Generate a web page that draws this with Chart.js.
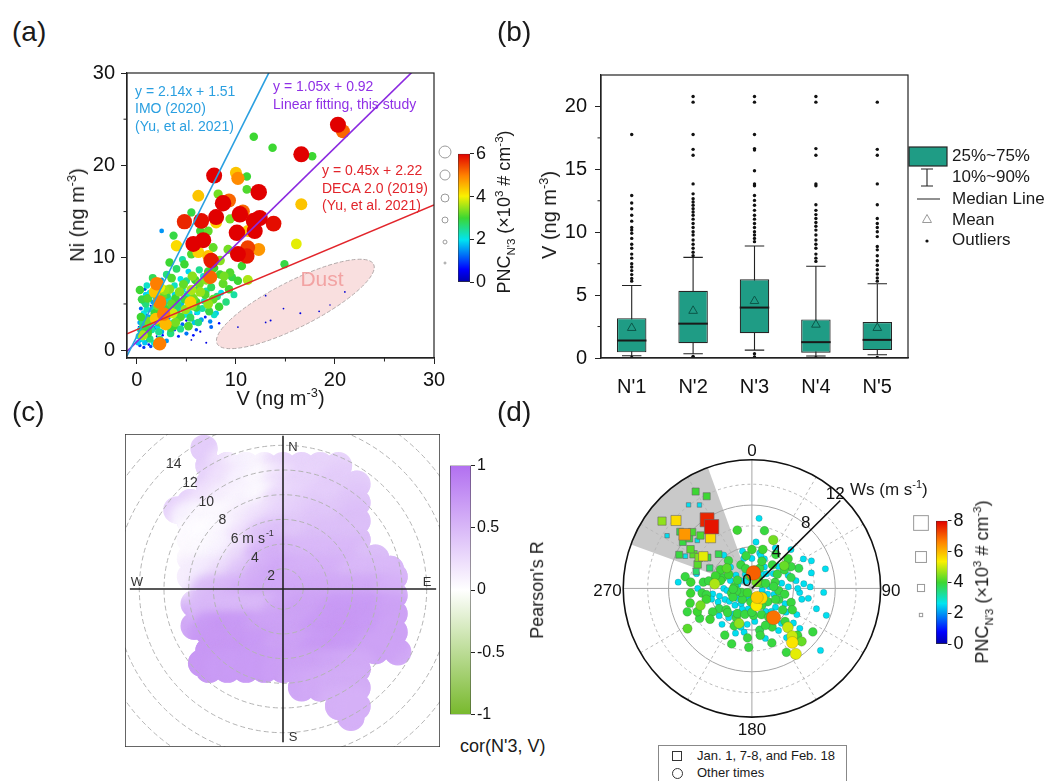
<!DOCTYPE html>
<html><head><meta charset="utf-8">
<script src="https://cdn.jsdelivr.net/npm/chart.js@4.4.1/dist/chart.umd.min.js"></script>
<style>
html,body{margin:0;padding:0;background:#fff;}
body{width:1052px;height:781px;overflow:hidden;position:relative;font-family:Arial,"Liberation Sans",Helvetica,sans-serif;color:#1a1a1a;}
canvas{position:absolute;}
.t{position:absolute;white-space:nowrap;line-height:1.1;}
.t sup,.t sub{font-size:64%;line-height:0;}
.bx{position:absolute;box-sizing:border-box;}
</style></head><body>
<script>
// ================= DATA =================
// (a) Ni vs V, colour/size = PNC_N'3 (x10^3 # cm^-3)
const aV=[20.3,20.8,16.6,7.8,12.3,8.7,9.3,4.8,6.5,8.0,10.4,10.7,12.4,13.8,10.1,11.9,5.7,6.7,10.2,11.1,7.5,7.4,2.3,2.7,2.3,2.0,11.8,11.2,
10.0,10.2,6.2,16.6,16.1,12.3,8.0,7.2,11.2,4.0,6.2,5.4,1.8,
11.8,13.7,17.7,11.1,11.1,8.2,5.5,9.4,6.4,7.2,3.7,7.7,9.2,10.6,11.2,10.2,9.4,8.4,14.9,5.5,4.8,8.4,2.5,
0.3,0.5,0.8,1.0,1.2,1.5,0.6,0.4,0.9,1.3,0.8,1.8,2.0,2.2,2.5,2.8,3.0,3.2,3.5,3.8,4.0,4.3,4.6,4.8,5.0,5.3,5.5,5.8,6.0,6.3,6.6,6.9,7.2,7.5,7.8,8.1,3.0,2.5,1.6,4.0,5.2,6.3,3.3,4.6,3.0,3.8,4.2,5.0,6.0,6.5,7.5,8.0,8.5,1.0,1.4,2.0,0.2,0.7,1.7,2.9,2.3,3.6,1.1,0.5,6.4,5.5,7.0,1.5,2.7,3.4,4.4,5.6,0.3,1.0,2.8,8.7,7.2,9.0,0.6,1.9,
13.0,14.8,16.5,18.4,13.0,13.5,10.2,21.0,19.5,
0.2,0.4,0.7,1.1,1.6,1.9,2.1,2.4,2.6,2.9,3.1,3.3,3.6,3.9,4.1,4.5,4.7,4.9,5.1,5.4,5.7,5.9,6.1,6.4,6.8,7.0,7.3,7.7,8.3,8.8,9.3,9.6,0.9,1.3,1.8,2.3,2.6,3.4,3.7,4.4,5.2,5.7,6.2,6.9,7.4,8.3,0.5,1.5,2.2,3.5,4.4,5.6,6.7,7.8,0.8,1.4,2.0,0.3,1.2,9.8,
0.1,0.3,0.5,0.7,0.9,1.0,1.2,1.4,1.6,1.8,2.0,2.1,2.3,2.4,2.6,2.8,3.0,3.2,3.4,3.6,3.8,4.0,4.2,4.4,4.6,4.8,5.0,0.4,0.8,1.2,1.9,2.6,3.2,4.0,5.0,5.9,0.6,1.1,2.7,3.3,4.1,5.3,6.2,7.0,1.7,0.9,2.2,3.9,6.0,5.1];
const aNi=[24.4,23.7,21.2,18.9,17.1,15.9,16.2,13.9,14.0,14.4,14.7,15.0,14.3,13.7,12.7,12.9,11.5,11.9,10.4,10.2,9.7,7.9,5.2,3.9,0.7,7.2,14.0,11.1,
19.2,18.6,16.7,15.8,11.5,10.9,13.8,10.2,12.9,11.3,10.6,5.2,6.3,
23.1,21.9,21.0,18.8,17.4,16.9,14.9,14.2,12.9,12.9,12.4,11.1,10.9,9.1,7.6,7.5,8.4,8.2,9.3,10.4,9.3,9.7,12.9,
0.5,1.2,2.0,1.0,2.5,3.2,3.0,4.5,5.0,6.2,6.6,4.0,5.5,3.0,2.0,4.5,6.0,3.5,5.0,7.0,4.2,6.3,2.8,5.5,7.5,4.0,6.5,3.0,5.2,7.2,4.5,6.0,5.0,6.8,3.8,5.8,8.2,7.6,7.8,8.8,8.5,8.7,9.5,9.8,1.0,2.2,1.5,1.8,2.2,3.3,2.5,4.0,6.2,3.8,4.8,1.5,2.5,0.3,0.8,2.8,6.8,4.0,1.8,2.0,2.0,1.1,0.8,2.2,3.6,2.4,3.6,4.8,6.5,7.0,6.5,7.2,8.5,5.2,1.6,3.4,
5.9,4.5,4.0,4.2,3.0,3.2,2.5,6.3,4.9,
1.5,3.6,4.0,5.6,5.2,6.8,4.8,3.8,5.9,5.2,4.4,6.6,3.0,5.6,3.3,5.0,7.1,4.4,6.1,3.5,5.6,7.6,4.1,6.3,5.3,7.6,4.2,5.5,4.7,8.0,6.6,7.9,2.7,1.2,2.4,1.2,2.9,1.8,2.6,2.3,2.6,1.6,3.0,3.6,3.1,2.9,5.5,6.0,7.3,7.8,7.7,8.0,8.0,8.9,0.8,0.4,0.6,3.0,3.1,6.0,
0.8,2.2,3.5,5.2,6.0,4.4,3.6,2.8,4.4,5.8,3.8,2.6,4.2,6.2,3.3,5.4,4.0,5.6,2.9,4.6,6.0,3.7,5.3,4.6,6.6,3.8,5.9,1.0,1.5,0.6,1.0,1.6,2.0,2.5,3.2,3.9,2.5,2.2,4.9,3.9,4.9,5.0,6.6,6.4,3.6,3.4,2.0,3.0,4.6,4.3];
const aPnc=[6,5.2,6,6,6.2,6.2,5.2,5.7,5.9,6,6.2,5.2,6.1,5.9,6.2,6,6,6,6,5.8,5.8,5.2,5.0,5.0,5.0,5.0,6,5.5,
4.4,4.9,4.4,4.4,3.9,4.8,4.3,4.4,4.4,4.2,4.3,4.3,4.4,
3.0,3.0,3.0,3.0,3.1,3.3,2.9,3.3,3.0,3.2,2.9,3.2,3.3,3.0,3.6,3.0,3.1,3.0,2.9,3.1,3.0,3.4,1.5,
1.0,2.0,1.5,0.8,2.2,1.8,2.5,1.2,2.6,2.0,1.0,3.0,2.4,2.8,1.6,2.0,2.8,1.4,3.2,2.2,2.6,3.4,1.2,2.9,2.5,2.1,3.6,1.8,3.0,3.3,2.4,3.1,3.5,2.8,2.2,2.6,2.6,1.5,2.8,2.7,1.9,2.5,3.0,2.4,1.5,1.0,0.8,1.3,1.0,1.6,1.2,1.8,2.0,0.6,0.5,0.4,0.5,0.9,2.0,4.5,4.0,3.8,3.0,2.8,0.5,0.3,0.4,2.4,3.3,2.9,3.1,3.4,3.0,2.2,3.5,3.2,3.0,2.6,3.6,4.4,
0.3,0.3,0.4,0.3,0.3,0.4,0.3,0.3,0.2,
2.2,3.0,2.0,3.1,1.6,3.0,3.3,2.2,3.2,1.8,2.9,3.4,2.0,3.0,2.3,1.7,3.2,3.5,2.2,2.8,3.3,3.0,2.0,3.5,2.2,3.4,2.9,3.2,3.0,3.3,3.0,2.9,1.4,2.6,1.2,2.4,3.1,2.6,3.0,2.5,3.1,0.7,2.6,0.8,1.4,0.6,2.9,0.8,3.3,3.1,2.0,3.4,2.2,3.0,1.8,1.0,2.7,1.6,3.3,2.4,
1.8,2.0,1.7,2.1,1.9,2.2,1.6,2.0,2.3,1.8,2.0,1.9,2.1,1.7,2.2,1.9,2.1,2.3,1.8,2.0,1.9,2.2,2.0,1.8,2.2,2.0,2.1,0.6,0.5,0.7,0.5,0.6,0.4,0.5,0.6,0.4,2.6,2.9,2.6,2.8,2.7,2.5,2.6,2.4,2.7,2.4,2.5,3.3,2.9,1.9];
const fitSlope=[2.14,1.05,0.45];
const fitIntercept=[1.51,0.92,2.22];
const aXTicks=[0,10,20,30], aXMinor=[5,15,25];
const aYTicks=[0,10,20,30], aYMinor=[5,15,25];
const aCbarTicks=[0,1,2,3,4,5,6];
const aSizeLegend=[4.4,3.6,2.8,2.0,1.2,0.4];
const dustAxis={x1:8.1,y1:0.7,x2:23.9,y2:9.3};

// (b) V by cluster (box plot)
const bCats=["N'1","N'2","N'3","N'4","N'5"];
const bP10=[0.18,0.34,0.63,0.16,0.26];
const bQ1=[0.45,1.18,1.97,0.42,0.63];
const bMedian=[1.39,2.73,4.01,1.26,1.44];
const bQ3=[3.17,5.35,6.26,3.07,2.86];
const bP90=[5.77,8.0,8.91,7.29,5.9];
const bMean=[2.39,3.75,4.53,2.65,2.39];
const bOut1=[17.77,12.92,12.32,11.87,11.35,10.88,10.38,10.17,9.91,9.51,9.04,8.73,8.26,7.94,7.5,7.23,6.95,6.63,6.32,6.11,0.05];
const bOut2=[20.79,20.34,17.77,16.59,16.12,13.84,13.05,12.66,12.4,12.14,11.87,11.61,11.35,11.04,10.69,10.38,10.04,9.78,9.38,9.04,8.73,8.41,8.13,0.13,0.02];
const bOut3=[20.79,20.34,17.77,16.65,16.54,14.89,13.84,13.7,12.92,12.53,12.14,11.74,11.35,11.04,10.69,10.38,10.04,9.78,9.51,9.25,0.34,0.08];
const bOut4=[20.79,20.34,16.65,16.12,13.84,13.7,12.19,11.74,11.4,11.09,10.77,10.48,10.17,9.78,9.38,9.04,8.73,8.26,7.94,7.68,0.03];
const bOut5=[20.34,16.59,16.12,13.84,12.19,11.09,10.69,10.38,10.04,9.65,8.86,8.6,8.13,7.73,7.37,7.02,6.68,6.37,6.11,0.04];
const bYTicks=[0,5,10,15,20], bYMinor=[2.5,7.5,12.5,17.5];
const bLegendLabels=['25%~75%','10%~90%','Median Line','Mean','Outliers'];

// (c) polar correlation field, Pearson's R on a (u,v) wind grid (m/s)
const cU=[-7.5,-6,-4.5,-3,-1.5,0,1.5,3,4.5,6,7.5,9];
const cV=[10,8.5,7,5.5,4,2.5,1,-0.5,-2,-3.5,-5,-6.5,-8,-9.5];
const _=null;
const cR=[
 [_,.35,.2,.1,.08,.25,.3,.3,.3,_,_,_],
 [_,.3,.2,.1,.05,.2,.3,.3,.35,.35,_,_],
 [.3,.2,.12,.08,.05,.25,.3,.35,.35,.4,_,_],
 [.1,.05,.05,.12,.2,.3,.35,.4,.4,.45,_,_],
 [.03,.02,.06,.2,.4,.45,.4,.45,.45,.45,_,_],
 [.04,.05,.1,.25,.5,.55,.5,.5,.5,.5,.45,_],
 [.12,.15,.25,.4,.55,.6,.55,.55,.55,.5,.5,.5],
 [_,.45,.5,.55,.6,.6,.6,.6,.6,.6,.6,.55],
 [_,.5,.5,.5,.5,.6,.65,.65,.7,.7,.7,.65],
 [_,.7,.72,.7,.65,.65,.65,.7,.72,.72,.7,.65],
 [_,.72,.72,.72,.7,.65,.65,.7,.72,.7,.65,_],
 [_,.72,.7,.7,.7,.68,.65,.65,.62,.6,_,_],
 [_,_,_,_,_,_,.62,.6,.58,.58,_,_],
 [_,_,_,_,_,_,_,_,.55,.55,_,_]];
const cExtra=[[-6.4,11.4,.35],[-8.6,6.4,.3],[8.7,1.6,.55],[9.3,-5.1,.6],[5.5,-10.4,.55],[-6.6,-6,.72],[-7.2,-1.2,.45],[-7.2,-3,.6]];
const cRings=[2,4,6,8,10,12,14,16];
const cRingLabels=[2,4,6,8,10,12,14];
const cRadialOffset=0.364;
const cCbarTicks=[-1,-0.5,0,0.5,1];

// (d) polar scatter: wind direction (deg), wind speed (m/s), PNC_N'3
const dDir=[6,135,165,143.6,23.7,54.7,146.3,143.4,137,136,137.4,251.5,237.9,277,346,15.6,0,151.8,125.7,199.9,183,233.5,265.6,275.9,256.6,256.4,246.8,284,274.9,5.8,12.2,60,66.6,75.3,93.2,107.6,132.3,120.4,84.8,74.4,75,112.4,158.6,169.5,195.6,218.3,238.2,225,225,275,301,309,335,0,40.9,60.6,87.5,84.8,37.9,305.5,220.6,176.6,149,128.7,109.8,102.3,88.5,256.6,247.6,257,219.6,239,264.6,277.4,207.8,187.4,152.5,147.8,22.8,36.9,342.9,21,301,289,346,12.3,50.4,60.8,100,160,200,250,320,60,130,190,240,290,95,115,175,210,270,80,170,230,140,30,350,
10,45,70,110,150,185,215,260,300,335,20,50,100,125,160,195,230,262,280,315,5,35,65,95,118,200,250,270,160,130,
15,55,80,105,120,140,175,205,235,265,285,310,345,70,90,100,130,145,165,190,215,248,255,285,320,30,45,75,110,125,
25,85,150,180,205,225,245,268,290,320,350,60,115,135,160,185,210,240,262,280,150,200,140];
const dWs=[1.5,1.3,1.7,3.5,5.1,3.8,7.6,6.5,7.0,6.3,5.1,5.2,7.3,3.6,5.8,3.9,3.75,7.0,7.2,5.7,5.7,5.0,5.9,5.9,6.1,4.5,5.7,3.1,7.1,6.8,5.7,5.7,4.9,5.9,6.9,6.5,8.9,5.0,5.0,3.9,2.3,2.8,3.7,4.1,3.9,3.6,3.7,2.3,0.6,1.7,2.6,3.1,2.5,2.9,3.0,2.8,3.5,1.7,1.7,1.3,1.4,2.6,2.6,2.9,4.0,4.9,5.6,3.2,2.8,2.0,4.5,4.4,4.8,4.7,3.2,3.5,4.2,4.8,3.1,0.75,2.0,2.1,3.5,3.7,3.7,3.5,4.5,4.3,1.0,0.9,1.0,1.1,0.9,1.0,2.0,2.0,2.5,2.2,2.6,3.5,3.2,2.8,2.7,4.3,4.6,4.1,4.4,2.4,1.2,
1.8,2.0,1.4,1.6,1.9,1.3,1.8,1.5,1.6,1.5,2.8,3.3,3.2,3.6,2.7,2.6,3.2,3.8,4.2,2.9,4.5,4.0,6.3,4.6,4.4,4.6,6.6,5.2,5.6,6.0,
3.3,2.5,2.9,2.2,1.3,2.9,1.5,2.2,1.7,2.4,1.4,2.0,3.0,3.7,4.4,5.5,5.2,5.8,5.0,4.3,3.0,3.5,4.0,5.5,4.2,4.5,5.3,7.3,7.6,4.0,
1.2,2.1,3.2,2.3,4.0,3.3,2.0,1.8,3.0,3.5,3.2,3.6,2.5,4.5,3.8,4.8,5.2,5.8,4.4,6.5,1.0,3.6,6.0];
const dPnc=[7.0,5.6,5.4,6.8,4.4,4.3,5.2,5.5,4.3,4.0,5.0,4.4,4.2,4.8,4.0,4.0,4.0,3.9,3.9,3.9,3.9,4.0,4.0,4.0,4.0,4.0,4.0,4.0,2.6,2.6,3.9,2.6,3.8,2.6,2.6,2.6,2.6,2.6,2.6,3.8,3.9,3.8,2.6,3.8,2.6,2.6,3.8,2.6,4.0,3.9,4.0,4.2,3.9,2.6,3.9,3.9,2.6,2.6,2.6,2.6,3.9,3.9,2.6,2.6,3.9,2.6,2.6,2.6,2.6,3.9,2.6,3.9,3.9,3.9,3.9,2.6,3.9,2.6,2.6,4.4,3.9,3.9,4.0,4.0,2.6,2.6,4.0,3.9,2.6,3.9,2.6,3.9,2.6,3.9,3.9,2.6,2.6,2.6,3.9,2.6,2.6,3.9,2.6,2.6,3.9,2.6,2.6,2.6,3.9,
3.9,2.6,3.9,2.6,3.9,3.9,2.6,3.9,3.9,2.6,3.9,2.6,3.9,3.9,3.9,3.9,3.9,2.6,3.9,2.6,2.6,3.9,2.6,2.6,3.9,2.6,3.9,2.6,3.9,2.6,
2.6,2.6,2.6,2.6,2.6,2.6,2.6,2.6,2.6,2.6,2.6,2.6,2.6,2.6,2.6,2.6,2.6,2.6,2.6,2.6,2.6,2.6,2.6,2.6,2.6,2.6,2.6,2.6,2.6,2.6,
3.9,3.9,3.9,3.9,3.9,3.9,3.9,3.9,3.9,3.9,3.9,3.9,3.9,3.9,3.9,3.9,3.9,3.9,3.9,3.9,5.8,4.6,5.0];
const sDir=[330,334,328,323,307,312,327,327,329,302,308.5,309,313.5,316,304,311.5,321,316,295,296,300.5,300.5,303.6,305,302.7,294,287,296,308.7];
const sWs=[10.8,9.9,9.5,10.1,10.8,9.8,7.9,7.1,7.4,9.6,8.8,8.3,7.9,7.1,8.0,7.0,6.3,4.6,7.7,7.1,6.5,5.9,5.6,5.2,7.0,5.7,5.6,4.5,7.7];
const sPnc=[4.0,4.0,2.6,2.6,4.6,5.6,7.6,7.8,2.6,2.6,3.9,6.4,4.1,4.1,3.9,2.7,5.6,3.8,3.9,2.7,4.2,4.5,5.2,3.9,4.2,4.2,3.6,3.6,3.9];
const dSector=[290,340];
const dMaxWs=12.35;
const dRingsDashed=[2,6,10], dRingsSolid=[4,8];
const dWsTicks=[0,4,8,12], dWsDir=45;
const dCbarTicks=[0,2,4,6,8];
const dSizeLegend=[8,6,4,2];

// ================= HELPERS =================
const FONT='Arial, "Liberation Sans", Helvetica, sans-serif';
Chart.defaults.font.family=FONT;
Chart.defaults.color='#111';
Chart.defaults.animation=false;
Chart.defaults.responsive=false;
Chart.defaults.plugins.legend.display=false;
Chart.defaults.plugins.tooltip.enabled=false;

function mkCanvas(l,t,w,h){const c=document.createElement('canvas');c.width=w;c.height=h;c.style.left=l+'px';c.style.top=t+'px';c.style.width=w+'px';c.style.height=h+'px';document.body.appendChild(c);return c;}
function lab(html,x,y,o={}){const d=document.createElement('div');d.className='t';d.innerHTML=html;d.style.left=x+'px';d.style.top=y+'px';d.style.fontSize=(o.size||16)+'px';d.style.color=o.color||'#1a1a1a';const ax=o.align==='left'?'0':(o.align==='right'?'-100%':'-50%');d.style.transform='translate('+ax+',-50%)'+(o.rot?' rotate('+o.rot+'deg)':'');document.body.appendChild(d);return d;}
function box(l,t,w,h,css){const d=document.createElement('div');d.className='bx';d.style.left=l+'px';d.style.top=t+'px';d.style.width=w+'px';d.style.height=h+'px';d.style.cssText+=css;document.body.appendChild(d);}

const jetStops=[[0,[0,0,170]],[0.1,[0,0,255]],[0.33,[0,228,240]],[0.5,[60,215,50]],[0.67,[250,240,0]],[0.83,[255,130,0]],[1,[225,0,0]]];
function jet(t){t=Math.max(0,Math.min(1,t));for(let i=1;i<jetStops.length;i++){if(t<=jetStops[i][0]){const [t0,c0]=jetStops[i-1],[t1,c1]=jetStops[i];const f=(t-t0)/(t1-t0);return 'rgb('+c0.map((v,j)=>Math.round(v+(c1[j]-v)*f)).join(',')+')';}}return 'rgb(225,0,0)';}
const cPosCol=[178,112,240], cNegCol=[120,185,45];
function rColor(R){const t=Math.min(1,Math.abs(R));const c=R>=0?cPosCol:cNegCol;return 'rgb('+c.map(v=>Math.round(255+(v-255)*t)).join(',')+')';}

const frame=(ch,lw,col)=>{const {ctx,chartArea:a}=ch;ctx.save();ctx.strokeStyle=col||'#222';ctx.lineWidth=lw||1.2;ctx.strokeRect(a.left,a.top,a.right-a.left,a.bottom-a.top);ctx.restore();};
const minorTicks=(ch,axis,vals,len)=>{const {ctx,chartArea:a}=ch;const s=ch.scales[axis];ctx.save();ctx.strokeStyle='#222';ctx.lineWidth=1;ctx.beginPath();vals.forEach(v=>{const p=s.getPixelForValue(v);if(axis==='x'){ctx.moveTo(p,a.bottom);ctx.lineTo(p,a.bottom+len);}else{ctx.moveTo(a.left,p);ctx.lineTo(a.left-len,p);}});ctx.stroke();ctx.restore();};
const fixedTicks=arr=>(s=>{s.ticks=arr.map(v=>({value:v}));});

function colorbar(l,t,w,h,barW,min,max,ticks,stops,fontSize){
  const c=mkCanvas(l,t,w,h);
  new Chart(c,{type:'bar',
    data:{labels:[''],datasets:[{data:[[min,max]],barPercentage:1,categoryPercentage:1,borderSkipped:false,borderColor:'#333',borderWidth:0.8,
      backgroundColor:(ctx)=>{const a=ctx.chart.chartArea;if(!a)return '#ccc';const g=ctx.chart.ctx.createLinearGradient(0,a.bottom,0,a.top);stops.forEach(([s,col])=>g.addColorStop(s,col));return g;}}]},
    options:{layout:{padding:{top:10,bottom:10,left:0,right:0}},
      scales:{x:{display:false},
        y:{position:'right',min,max,afterBuildTicks:fixedTicks(ticks),afterFit:s=>{s.width=w-barW;},
          ticks:{font:{size:fontSize},color:'#111',padding:2,callback:v=>String(v)},
          grid:{drawOnChartArea:false,tickLength:4,color:'#222'},border:{display:false}}}}});
}

// ================= (a) =================
const fitColors=['#2a9fe0','#8b2ae0','#e2252b'];
const rA=p=>0.5+1.25*p;
const aIdx=aV.map((_,i)=>i).sort((i,j)=>aPnc[i]-aPnc[j]);
const aPlugin={id:'aDeco',
  beforeDatasetsDraw(ch){const {ctx,scales:{x,y}}=ch;
    const x1=x.getPixelForValue(dustAxis.x1),y1=y.getPixelForValue(dustAxis.y1),x2=x.getPixelForValue(dustAxis.x2),y2=y.getPixelForValue(dustAxis.y2);
    const a=Math.hypot(x2-x1,y2-y1)/2,ang=Math.atan2(y2-y1,x2-x1);
    ctx.save();ctx.beginPath();ctx.ellipse((x1+x2)/2,(y1+y2)/2,a,23,ang,0,Math.PI*2);ctx.fillStyle='rgba(247,210,210,0.7)';ctx.fill();
    ctx.setLineDash([4,2]);ctx.strokeStyle='#b3aaaa';ctx.lineWidth=1;ctx.stroke();ctx.restore();},
  afterDraw(ch){frame(ch);minorTicks(ch,'x',aXMinor,3.5);minorTicks(ch,'y',aYMinor,3.5);
    const ctx=ch.ctx;ctx.save();ctx.strokeStyle='#9a9a9a';ctx.lineWidth=1;
    const ys=[152,175,198,220,242,263];
    aSizeLegend.forEach((p,i)=>{ctx.beginPath();ctx.arc(445-40,ys[i]-55,rA(p),0,Math.PI*2);ctx.stroke();});ctx.restore();}
};
new Chart(mkCanvas(40,55,420,359),{type:'scatter',
  data:{datasets:[
    ...fitSlope.map((m,i)=>({type:'line',data:[{x:-1,y:-m+fitIntercept[i]},{x:30,y:30*m+fitIntercept[i]}],borderColor:fitColors[i],borderWidth:1.6,pointRadius:0,showLine:true,order:1})),
    {data:aIdx.map(i=>({x:aV[i],y:aNi[i],p:aPnc[i]})),pointRadius:c=>rA(c.raw.p),pointBackgroundColor:c=>jet(c.raw.p/6),pointBorderWidth:0,order:5}]},
  options:{layout:{padding:{top:16,right:26,left:0,bottom:0}},
    scales:{
      x:{type:'linear',min:-1,max:30,afterBuildTicks:fixedTicks(aXTicks),afterFit:s=>{s.height=56;},ticks:{font:{size:20},padding:4,color:'#111'},grid:{drawOnChartArea:false,tickLength:6,color:'#222'},border:{color:'#222',width:1.2}},
      y:{type:'linear',min:-0.85,max:30,afterBuildTicks:fixedTicks(aYTicks),afterFit:s=>{s.width=87;},ticks:{font:{size:20},padding:6,color:'#111'},grid:{drawOnChartArea:false,tickLength:6,color:'#222'},border:{color:'#222',width:1.2}}}},
  plugins:[aPlugin]});
colorbar(458,141,64,154,12,0,6,aCbarTicks,jetStops.map(([t,c])=>[t,'rgb('+c.join(',')+')']),18);

// ================= (b) =================
const bOutliers=[bOut1,bOut2,bOut3,bOut4,bOut5];
const bPlugin={id:'bBox',
  beforeDatasetsDraw(ch){const {ctx,scales:{y}}=ch;const meta=ch.getDatasetMeta(0);ctx.save();ctx.strokeStyle='#222';ctx.lineWidth=1.1;
    meta.data.forEach((bar,i)=>{const x=bar.x,w=bar.width*0.33,yt=y.getPixelForValue(bP90[i]),yb=y.getPixelForValue(bP10[i]);
      ctx.beginPath();ctx.moveTo(x,yb);ctx.lineTo(x,yt);ctx.moveTo(x-w,yt);ctx.lineTo(x+w,yt);ctx.moveTo(x-w,yb);ctx.lineTo(x+w,yb);ctx.stroke();});ctx.restore();},
  afterDatasetsDraw(ch){const {ctx,scales:{y}}=ch;const meta=ch.getDatasetMeta(0);ctx.save();ctx.strokeStyle='#1a1a1a';ctx.lineWidth=2;
    meta.data.forEach((bar,i)=>{const ym=y.getPixelForValue(bMedian[i]);ctx.beginPath();ctx.moveTo(bar.x-bar.width/2,ym);ctx.lineTo(bar.x+bar.width/2,ym);ctx.stroke();});ctx.restore();},
  afterDraw(ch){frame(ch);minorTicks(ch,'y',bYMinor,3.5);
    const ctx=ch.ctx,ox=520,oy=55;ctx.save();
    ctx.fillStyle='#1f9c85';ctx.strokeStyle='#262626';ctx.lineWidth=1.2;ctx.fillRect(909-ox,147-oy,38,19);ctx.strokeRect(909-ox,147-oy,38,19);
    ctx.strokeStyle='#222';ctx.lineWidth=1.1;ctx.beginPath();ctx.moveTo(927-ox,169-oy);ctx.lineTo(927-ox,186-oy);ctx.moveTo(921-ox,169-oy);ctx.lineTo(933-ox,169-oy);ctx.moveTo(921-ox,186-oy);ctx.lineTo(933-ox,186-oy);
    ctx.moveTo(917-ox,199-oy);ctx.lineTo(940-ox,199-oy);ctx.stroke();
    ctx.strokeStyle='#9a9a9a';ctx.lineWidth=1;ctx.beginPath();ctx.moveTo(927-ox,214.5-oy);ctx.lineTo(931.5-ox,222.5-oy);ctx.lineTo(922.5-ox,222.5-oy);ctx.closePath();ctx.stroke();
    ctx.fillStyle='#111';ctx.beginPath();ctx.arc(927-ox,241-oy,1.6,0,Math.PI*2);ctx.fill();
    ctx.font='17px '+FONT;ctx.textBaseline='middle';ctx.fillStyle='#1a1a1a';
    const rows=[156,177,199,220,240];
    bLegendLabels.forEach((t,i)=>ctx.fillText(t,952-ox,rows[i]-oy));
    ctx.restore();}
};
new Chart(mkCanvas(520,55,532,359),{type:'bar',
  data:{labels:bCats,datasets:[
    {type:'bar',data:bQ1.map((v,i)=>[v,bQ3[i]]),backgroundColor:'#1f9c85',borderColor:'#262626',borderWidth:1.2,borderSkipped:false,barPercentage:0.48,categoryPercentage:1,order:3},
    {type:'line',data:bMean,showLine:false,pointStyle:'triangle',pointRadius:5,pointBackgroundColor:'rgba(0,0,0,0)',pointBorderColor:'#0c5749',pointBorderWidth:1,order:1},
    {type:'line',data:bOutliers.flatMap((arr,i)=>arr.map(v=>({x:bCats[i],y:v}))),showLine:false,pointRadius:1.7,pointBackgroundColor:'#111',pointBorderWidth:0,order:2}]},
  options:{layout:{padding:{top:16,right:144,left:0,bottom:0}},
    scales:{
      x:{afterFit:s=>{s.height=56;},ticks:{font:{size:20},padding:9,color:'#111'},grid:{display:false},border:{color:'#222',width:1.2}},
      y:{min:0,max:22.5,afterBuildTicks:fixedTicks(bYTicks),afterFit:s=>{s.width=81;},ticks:{font:{size:20},padding:8,color:'#111'},grid:{drawOnChartArea:false,tickLength:6,color:'#222'},border:{color:'#222',width:1.2}}}},
  plugins:[bPlugin]});

// ================= (c) =================
const cBlobs=[];
cExtra.forEach(([u,v,R])=>cBlobs.push({x:u,y:v,R}));
cV.forEach((v,r)=>cU.forEach((u,c)=>{const R=cR[r][c];if(R!==null)cBlobs.push({x:u,y:v,R});}));
const cEdgeR=1.1, cPaintR=1.7;
const cPlugin={id:'cDeco',
  beforeDatasetsDraw(ch){const {ctx,scales:{x,y}}=ch;const r=x.getPixelForValue(cEdgeR)-x.getPixelForValue(0);
    ctx.save();ctx.beginPath();cBlobs.forEach(b=>{const px=x.getPixelForValue(b.x),py=y.getPixelForValue(b.y);ctx.moveTo(px+r,py);ctx.arc(px,py,r,0,Math.PI*2);});ctx.clip();ctx.filter='blur(4px)';},
  afterDatasetsDraw(ch){const {ctx,chartArea:a,scales:{x,y}}=ch;ctx.restore();
    const ox=x.getPixelForValue(0),oy=y.getPixelForValue(0),k=x.getPixelForValue(1)-ox;
    const rr=s=>(s-cRadialOffset)*k;
    ctx.save();ctx.beginPath();ctx.rect(a.left,a.top,a.right-a.left,a.bottom-a.top);ctx.clip();
    ctx.strokeStyle='#b4b4b4';ctx.lineWidth=1;ctx.setLineDash([5,3]);
    cRings.forEach(s=>{ctx.beginPath();ctx.arc(ox,oy,rr(s),0,Math.PI*2);ctx.stroke();});
    ctx.setLineDash([]);ctx.strokeStyle='#222';ctx.lineWidth=1.6;const L=12.4*k;
    ctx.beginPath();ctx.moveTo(ox-L,oy);ctx.lineTo(ox+L,oy);ctx.moveTo(ox,oy-L);ctx.lineTo(ox,oy+L);ctx.stroke();
    ctx.fillStyle='#333';ctx.font='14px '+FONT;ctx.textBaseline='alphabetic';
    const ang=41*Math.PI/180;
    cRingLabels.forEach(s=>{const r=rr(s)-2,px=ox-Math.sin(ang)*r,py=oy-Math.cos(ang)*r+5;
      if(s===6){ctx.textAlign='left';ctx.fillText('6 m s',px-8,py);const w=ctx.measureText('6 m s').width;ctx.font='9px '+FONT;ctx.fillText('-1',px-8+w+1,py-7);ctx.font='14px '+FONT;}
      else{ctx.textAlign='center';ctx.fillText(String(s),px,py);}});
    ctx.font='13px '+FONT;ctx.textAlign='center';
    ctx.fillText('N',ox+10,oy-137.5);ctx.fillText('S',ox+10,oy+152.5);ctx.fillText('W',ox-146,oy-2.5);ctx.fillText('E',ox+144,oy-2.5);
    ctx.restore();frame(ch,1.5,'#333');}
};
new Chart(mkCanvas(125,434,315,313),{type:'scatter',
  data:{datasets:[{data:cBlobs,pointRadius:c=>{const s=c.chart.scales.x;return s.getPixelForValue(cPaintR)-s.getPixelForValue(0);},pointBackgroundColor:c=>rColor(c.raw.R),pointBorderWidth:0}]},
  options:{layout:{padding:0},scales:{x:{type:'linear',display:false,min:-12.794,max:12.713},y:{type:'linear',display:false,min:-12.794,max:12.551}}},
  plugins:[cPlugin]});
colorbar(450,454,80,272,21,-1,1,cCbarTicks,[[0,rColor(-1)],[0.5,'#ffffff'],[1,rColor(1)]],16);

// ================= (d) =================
const toXY=(d,s)=>({x:s*Math.sin(d*Math.PI/180),y:s*Math.cos(d*Math.PI/180)});
const rCirc=p=>0.7+0.95*p, sideSq=p=>1.9*p-0.5;
const dIdx=dDir.map((_,i)=>i).sort((i,j)=>dPnc[i]-dPnc[j]);
const sIdx=sDir.map((_,i)=>i).sort((i,j)=>sPnc[i]-sPnc[j]);
const dPlugin={id:'dDeco',
  beforeDatasetsDraw(ch){const {ctx,scales:{x,y}}=ch;const ox=x.getPixelForValue(0),oy=y.getPixelForValue(0),k=x.getPixelForValue(1)-ox,R=dMaxWs*k;
    const ang=d=>(d-90)*Math.PI/180;ctx.save();
    ctx.beginPath();ctx.moveTo(ox,oy);ctx.arc(ox,oy,R,ang(dSector[0]),ang(dSector[1]));ctx.closePath();ctx.fillStyle='#c9c9c9';ctx.fill();
    ctx.lineWidth=1;ctx.strokeStyle='#b8b8b8';ctx.setLineDash([3,3]);
    dRingsDashed.forEach(s=>{ctx.beginPath();ctx.arc(ox,oy,s*k,0,Math.PI*2);ctx.stroke();});
    for(let d=30;d<360;d+=30){if(d%90===0)continue;ctx.beginPath();ctx.moveTo(ox,oy);ctx.lineTo(ox+R*Math.cos(ang(d)),oy+R*Math.sin(ang(d)));ctx.stroke();}
    ctx.setLineDash([]);ctx.strokeStyle='#a5a5a5';
    dRingsSolid.forEach(s=>{ctx.beginPath();ctx.arc(ox,oy,s*k,0,Math.PI*2);ctx.stroke();});
    ctx.beginPath();ctx.moveTo(ox-R,oy);ctx.lineTo(ox+R,oy);ctx.moveTo(ox,oy-R);ctx.lineTo(ox,oy+R);ctx.stroke();
    ctx.restore();},
  afterDatasetsDraw(ch){const {ctx,scales:{x,y}}=ch;const ox=x.getPixelForValue(0),oy=y.getPixelForValue(0),k=x.getPixelForValue(1)-ox,R=dMaxWs*k;
    ctx.save();ctx.strokeStyle='#111';ctx.lineWidth=1.6;ctx.beginPath();ctx.arc(ox,oy,R,0,Math.PI*2);ctx.stroke();
    const e=toXY(dWsDir,dWsTicks[dWsTicks.length-1]);ctx.beginPath();ctx.moveTo(ox,oy);ctx.lineTo(x.getPixelForValue(e.x),y.getPixelForValue(e.y));ctx.stroke();
    ctx.fillStyle='#111';ctx.font='17px '+FONT;ctx.textAlign='center';ctx.textBaseline='alphabetic';
    dWsTicks.forEach(s=>{const p=toXY(dWsDir,s);ctx.fillText(String(s),x.getPixelForValue(p.x)-5,y.getPixelForValue(p.y)-2);});
    ctx.fillText('0',ox,oy-R-4);ctx.fillText('180',ox,oy+R+17.5);
    ctx.textAlign='left';ctx.fillText('90',ox+R+1,oy+7.5);ctx.textAlign='right';ctx.fillText('270',ox-R-1.5,oy+7.5);
    ctx.strokeStyle='#999';ctx.lineWidth=1;const ys=[523,557,588,615];
    dSizeLegend.forEach((p,i)=>{const sd=sideSq(p);ctx.strokeRect(921-580-sd/2,ys[i]-430-sd/2,sd,sd);});
    ctx.restore();}
};
new Chart(mkCanvas(580,430,350,320),{type:'scatter',
  data:{datasets:[
    {data:dIdx.map(i=>({...toXY(dDir[i],dWs[i]),p:dPnc[i]})),pointStyle:'circle',pointRadius:c=>rCirc(c.raw.p),pointBackgroundColor:c=>jet(c.raw.p/8),pointBorderColor:'rgba(60,60,60,0.35)',pointBorderWidth:0.6,order:2},
    {data:sIdx.map(i=>({...toXY(sDir[i],sWs[i]),p:sPnc[i]})),pointStyle:'rect',pointRadius:c=>sideSq(c.raw.p)/Math.SQRT2,pointBackgroundColor:c=>jet(c.raw.p/8),pointBorderColor:'#666',pointBorderWidth:0.6,order:1}]},
  options:{layout:{padding:0},scales:{x:{type:'linear',display:false,min:-15.468,max:16.063},y:{type:'linear',display:false,min:-14.568,max:14.261}}},
  plugins:[dPlugin]});
colorbar(936,508,50,149,11.5,0,8,dCbarTicks,jetStops.map(([t,c])=>[t,'rgb('+c.join(',')+')']),18);

// ================= TEXT =================
lab('(a)',12,32,{align:'left',size:28});
lab('(b)',497,32,{align:'left',size:28});
lab('(c)',12,412,{align:'left',size:28});
lab('(d)',497,412,{align:'left',size:28});
lab('Ni (ng m<sup>-3</sup>)',77,214.5,{size:20,rot:-90});
lab('V (ng m<sup>-3</sup>)',280.5,398,{size:20});
lab('PNC<sub>N\'3</sub> (×10<sup>3</sup> # cm<sup>-3</sup>)',505,212,{size:18,rot:-90});
lab('y = 2.14x + 1.51',135,92,{align:'left',size:14,color:'#2a9fe0'});
lab('IMO (2020)',135,109,{align:'left',size:14,color:'#2a9fe0'});
lab('(Yu, et al. 2021)',135,127,{align:'left',size:14,color:'#2a9fe0'});
lab('y = 1.05x + 0.92',273,87,{align:'left',size:14,color:'#8f2fe6'});
lab('Linear fitting, this study',273,105,{align:'left',size:14,color:'#8f2fe6'});
lab('y = 0.45x + 2.22',322,171,{align:'left',size:14,color:'#e2252b'});
lab('DECA 2.0 (2019)',322,188.5,{align:'left',size:14,color:'#e2252b'});
lab('(Yu, et al. 2021)',322,206,{align:'left',size:14,color:'#e2252b'});
lab('Dust',322,279,{size:21,color:'#f2a3a3'});
lab('V (ng m<sup>-3</sup>)',549,214.5,{size:20,rot:-90});
lab('Pearson\'s R',538,590,{size:18,rot:-90});
lab('cor(N\'3, V)',460,747,{align:'left',size:18});
lab('Ws (m s<sup>-1</sup>)',850,490,{align:'left',size:17});
lab('PNC<sub>N\'3</sub> (×10<sup>3</sup> # cm<sup>-3</sup>)',983,582,{size:18,rot:-90});
box(658,745,189,50,'border:1px solid #888;background:#fff;');
box(672,751,10,10,'border:1.3px solid #333;');
box(671.5,767.5,11,11,'border:1.3px solid #333;border-radius:50%;');
lab('Jan. 1, 7-8, and Feb. 18',697,756,{align:'left',size:13});
lab('Other times',697,773,{align:'left',size:13});
</script>
</body></html>
